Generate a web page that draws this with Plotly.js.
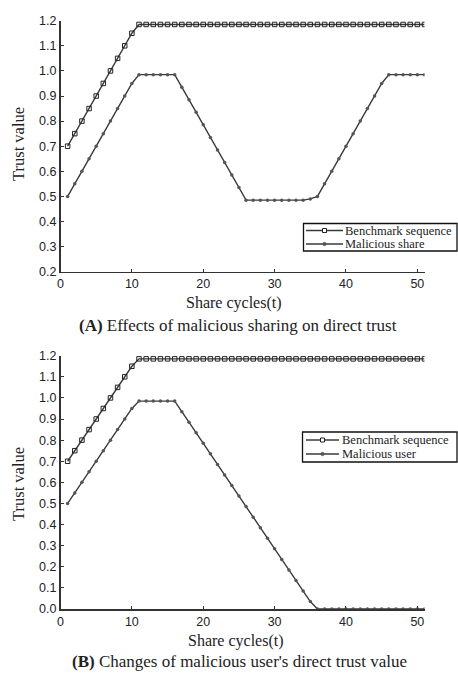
<!DOCTYPE html>
<html><head><meta charset="utf-8">
<script src="https://cdn.plot.ly/plotly-3.0.1.min.js"></script>
<style>html,body{margin:0;padding:0;background:#fff}#chart{width:458px;height:673px}</style>
</head><body><div id="chart"></div>
<script>
const cycles = [1,2,3,4,5,6,7,8,9,10,11,12,13,14,15,16,17,18,19,20,21,22,23,24,25,26,27,28,29,30,31,32,33,34,35,36,37,38,39,40,41,42,43,44,45,46,47,48,49,50,51];
const benchmark = [0.70,0.75,0.80,0.85,0.90,0.95,1.00,1.05,1.10,1.15,
  1.185,1.185,1.185,1.185,1.185,1.185,1.185,1.185,1.185,1.185,
  1.185,1.185,1.185,1.185,1.185,1.185,1.185,1.185,1.185,1.185,
  1.185,1.185,1.185,1.185,1.185,1.185,1.185,1.185,1.185,1.185,
  1.185,1.185,1.185,1.185,1.185,1.185,1.185,1.185,1.185,1.185,1.185];
const maliciousShare = [0.50,0.55,0.60,0.65,0.70,0.75,0.80,0.85,0.90,0.95,
  0.985,0.985,0.985,0.985,0.985,0.985,
  0.935,0.885,0.835,0.785,0.735,0.685,0.635,0.585,0.535,
  0.485,0.485,0.485,0.485,0.485,0.485,0.485,0.485,0.485,
  0.49,0.50,
  0.55,0.60,0.65,0.70,0.75,0.80,0.85,0.90,0.95,
  0.985,0.985,0.985,0.985,0.985,0.985];
const maliciousUser = [0.50,0.55,0.60,0.65,0.70,0.75,0.80,0.85,0.90,0.95,
  0.985,0.985,0.985,0.985,0.985,0.985,
  0.935,0.885,0.835,0.785,0.735,0.685,0.635,0.585,0.535,0.485,0.435,0.385,0.335,0.285,0.235,0.185,0.135,0.085,0.035,
  0,0,0,0,0,0,0,0,0,0,0,0,0,0,0,0];
const xTicks = [0,10,20,30,40,50];
const names = ["Benchmark sequence","Malicious share","Malicious user"];
const captions = ["<b>(A)</b> Effects of malicious sharing on direct trust","<b>(B)</b> Changes of malicious user's direct trust value"];
const xTitle = "Share cycles(t)";
const yTitle = "Trust value";

const W = 458, H = 673;
const px = v => v / W, py = v => 1 - v / H;
const lineC = '#3a3a3a';
const serif = '"Liberation Serif", "Times New Roman", serif';
const sans = '"Liberation Sans", Arial, sans-serif';

function bench(xa, ya) {
  return {x: cycles, y: benchmark, xaxis: xa, yaxis: ya, name: names[0], mode: 'lines+markers', showlegend: false,
    line: {color: lineC, width: 1.4}, marker: {symbol: 'square-open', size: 4.5, color: '#222', line: {width: 1, color: '#222'}}};
}
function mal(y, nm, xa, ya) {
  return {x: cycles, y: y, xaxis: xa, yaxis: ya, name: nm, mode: 'lines+markers', showlegend: false,
    line: {color: lineC, width: 1.4}, marker: {symbol: 'circle', size: 3.5, color: '#555'}};
}
const traces = [
  bench('x', 'y'), mal(maliciousShare, names[1], 'x', 'y'),
  bench('x2', 'y2'), mal(maliciousUser, names[2], 'x2', 'y2')
];
const xDom = [px(60.5), px(424.5)];
function xax(anchor) {
  return {domain: xDom, anchor: anchor, range: [0, 51], tickvals: xTicks, ticks: 'inside', ticklen: 3, tickwidth: 1,
    tickcolor: '#333', showline: true, linecolor: '#333', linewidth: 1.5, showgrid: false, zeroline: false,
    tickfont: {family: sans, size: 12.5, color: '#222'}, fixedrange: true};
}
function yax(anchor, dom, range, tv) {
  return {domain: dom, anchor: anchor, range: range, tickvals: tv, tickformat: '.1f', ticks: 'inside', ticklen: 3, tickwidth: 1,
    tickcolor: '#333', showline: true, linecolor: '#333', linewidth: 1.5, showgrid: false, zeroline: false,
    tickfont: {family: sans, size: 12.5, color: '#222'}, fixedrange: true};
}
const ann = (text, x, y, size, angle, xanchor) => ({text: text, x: px(x), y: py(y), xref: 'paper', yref: 'paper', showarrow: false,
  xanchor: xanchor || 'center', yanchor: 'middle', textangle: angle || 0, font: {family: serif, size: size, color: '#222'}});

// custom legends (box, sample line, sample marker, label)
const shapes = [], anns = [];
function legend(box, rows) {
  shapes.push({type: 'rect', xref: 'paper', yref: 'paper', x0: px(box[0]), x1: px(box[1]), y0: py(box[3]), y1: py(box[2]),
    line: {color: '#111', width: 1.3}, fillcolor: '#fff', layer: 'above'});
  rows.forEach(r => {
    shapes.push({type: 'line', xref: 'paper', yref: 'paper', x0: px(r.l0), x1: px(r.l1), y0: py(r.y), y1: py(r.y),
      line: {color: lineC, width: 1.4}, layer: 'above'});
    const m = (r.l0 + r.l1) / 2;
    if (r.sym === 'sq') shapes.push({type: 'rect', xref: 'paper', yref: 'paper', x0: px(m - 2), x1: px(m + 2), y0: py(r.y + 2), y1: py(r.y - 2),
      line: {color: '#222', width: 1}, fillcolor: '#fff', layer: 'above'});
    else shapes.push({type: 'circle', xref: 'paper', yref: 'paper', x0: px(m - 1.8), x1: px(m + 1.8), y0: py(r.y + 1.8), y1: py(r.y - 1.8),
      line: {color: '#555', width: 0.5}, fillcolor: '#555', layer: 'above'});
    anns.push(ann(r.text, r.tx, r.y, 12.5, 0, 'left'));
  });
}
legend([303.5, 457, 223.5, 251], [
  {y: 230.5, l0: 306, l1: 343, sym: 'sq', text: names[0], tx: 343},
  {y: 244, l0: 306, l1: 343, sym: 'ci', text: names[1], tx: 343}]);
legend([302.5, 457, 432, 462], [
  {y: 440, l0: 306, l1: 339, sym: 'sq', text: names[0], tx: 339.5},
  {y: 454, l0: 306, l1: 339, sym: 'ci', text: names[2], tx: 339.5}]);

const layout = {
  width: W, height: H, margin: {l: 0, r: 0, t: 0, b: 0}, paper_bgcolor: '#fff', plot_bgcolor: '#fff', showlegend: false,
  xaxis: xax('y'), yaxis: yax('x', [py(271.7), py(20.7)], [0.2, 1.2], [0.2,0.3,0.4,0.5,0.6,0.7,0.8,0.9,1.0,1.1,1.2]),
  xaxis2: xax('y2'), yaxis2: yax('x2', [py(609), py(355.7)], [0, 1.2], [0,0.1,0.2,0.3,0.4,0.5,0.6,0.7,0.8,0.9,1.0,1.1,1.2]),
  shapes: shapes,
  annotations: anns.concat([
    ann(yTitle, 18, 144, 16.5, -90), ann(xTitle, 234, 303, 16), ann(captions[0], 238, 325, 17),
    ann(yTitle, 18, 484, 16.5, -90), ann(xTitle, 236, 641, 16), ann(captions[1], 239, 661, 17)
  ])
};
Plotly.newPlot('chart', traces, layout, {staticPlot: true});
</script></body></html>
